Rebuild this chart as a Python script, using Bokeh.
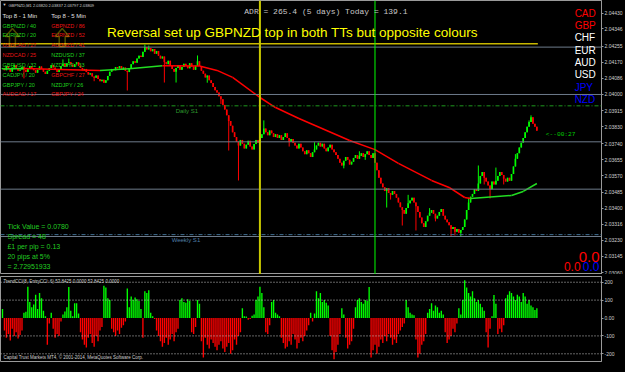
from bokeh.plotting import figure
from bokeh.layouts import column
from bokeh.models import (Range1d, Span, Label, PolyAnnotation, LinearAxis,
                          FixedTicker, PrintfTickFormatter, ColumnDataSource)
from bokeh.embed import file_html
from bokeh.resources import INLINE

# ---------------- data (prices in points above 2.03000) ----------------
BASE = 2.03000
first_open = 1135
closes = [
    1140, 1128, 1150, 1135, 1120, 1142, 1155, 1138, 1125, 1132,
    1145, 1130, 1118, 1136, 1150, 1140, 1128, 1115, 1130, 1148,
    1135, 1120, 1108, 1125, 1140, 1155, 1142, 1130, 1118, 1135,
    1150, 1162, 1148, 1165, 1172, 1158, 1145, 1160, 1170, 1152,
    1140, 1128, 1135, 1118, 1105, 1112, 1095, 1088, 1100, 1082,
    1070, 1078, 1062, 1075, 1098, 1120, 1135, 1128, 1145, 1138,
    1150, 1130, 1142, 1125, 1118, 1140, 1160, 1175, 1168, 1190,
    1205, 1198, 1225, 1250, 1238, 1245, 1228, 1240, 1215, 1230,
    1205, 1190, 1200, 1172, 1160, 1178, 1150, 1135, 1120, 1140,
    1155, 1130, 1145, 1162, 1150, 1138, 1165, 1148, 1130, 1152,
    1175, 1150, 1125, 1110, 1090, 1100, 1075, 1060, 1040, 1022,
    1010, 990, 975, 945, 920, 890, 860, 835, 800, 775,
    750, 730, 760, 740, 715, 735, 755, 725, 710, 738,
    760, 745, 770, 790, 820, 800, 785, 810, 795, 775,
    790, 770, 785, 760, 775, 795, 770, 750, 765, 745,
    730, 715, 740, 720, 700, 685, 705, 690, 670, 695,
    710, 730, 745, 725, 740, 715, 700, 720, 735, 710,
    695, 680, 660, 640, 625, 650, 670, 655, 630, 645,
    665, 680, 660, 675, 690, 670, 685, 700, 680, 665,
    690, 640, 600, 560, 530, 510, 490, 505, 480, 470,
    490, 475, 455, 430, 405, 390, 370, 400, 425, 440,
    455, 430, 410, 380, 350, 320, 300, 330, 360, 375,
    390, 370, 345, 360, 380, 395, 360, 340, 325, 310,
    290, 300, 275, 290, 270, 285, 300, 340, 390, 430,
    460, 475, 500, 490, 530, 570, 590, 560, 540, 520,
    500, 540, 525, 545, 570, 590, 575, 555, 540, 560,
    545, 580, 620, 660, 690, 720, 745, 770, 800, 830,
    855, 880, 845, 830, 809,
]
spike_high_bars = [31, 34, 73, 75, 100, 134, 160, 183, 208, 219, 239, 244, 253, 263, 270, 271]
spike_high_pts = [1185, 1190, 1264, 1258, 1206, 863, 748, 700, 470, 400, 455, 625, 614, 685, 863, 890]
spike_low_bars = [11, 47, 64, 83, 89, 105, 112, 116, 121, 147, 175, 186, 197, 199,
                  205, 212, 222, 230, 232, 235, 247, 250, 257]
spike_low_pts = [1085, 1070, 1021, 1063, 1063, 1062, 950, 704, 546, 725, 610, 655, 403, 445,
                 308, 282, 330, 250, 255, 248, 525, 451, 525]

ma_bars = [0, 11, 30, 50, 65, 82, 101, 110, 118, 132, 140, 152, 178, 191, 203,
           220, 229, 237, 240, 261, 267, 274]
ma_pts = [1134, 1137, 1132, 1127, 1136, 1152, 1150, 1127, 1090, 984, 931, 873,
          757, 709, 636, 546, 509, 456, 451, 467, 488, 530]

cci = [
    50, -70, -110, -90, -125, -60, -100, -80, -115, -95,
    -70, 30, 35, 175, 90, 60, 75, 130, 50, 140,
    110, 40, 10, -150, -30, 30, -60, -110, -90, -100,
    -20, 20, 37, 60, 174, 40, 10, 82, 82, 25,
    -80, -120, -150, -165, -110, -90, -140, -160, -100, -130,
    -70, -50, 180, 170, 110, 100, -60, -80, -100, -70,
    -90, -55, -40, -20, 165, 60, 120, 100, 115, 105,
    95, 50, -110, 150, 140, 155, 30, 10, -5, -70,
    -100, -130, -160, -140, -110, -150, -120, -90, -130, -80,
    -60, 100, 110, 90, 85, 105, 95, -80, -90, -50,
    100, 80, -130, -220, -110, -150, -170, -120, -140, -160,
    -180, -150, -130, -170, -190, -160, -140, -200, -180, -120,
    -150, -100, -80, 55, 10, 8, -10, -5, 12, 20,
    100, 120, 175, 140, 60, -80, -90, -40, 90, 100,
    30, 20, 10, -110, -140, -170, -160, -130, -150, -90,
    -120, -170, -140, -110, -130, -100, -70, -40, 30, -20,
    25, 150, 110, 140, 90, 100, 85, 70, -100, -180,
    -230, -190, -150, -90, 55, 20, -110, -170, -150, -130,
    -60, 60, 100, 110, 90, 80, 100, 95, 174, -220,
    -180, -150, -200, -160, -120, -140, -100, -130, -90, -110,
    -150, -120, -140, -90, -70, -50, -30, 100, 60, 30,
    20, 15, -120, -220, -200, -150, -130, -90, 30, 50,
    82, 40, 70, 60, 30, 40, 20, -80, -140, -120,
    -100, -60, -80, -30, 55, 20, 100, 211, 170, 140,
    120, 150, 110, 90, 100, 80, 60, 40, -80, -165,
    -60, 10, 128, 80, -90, -60, -80, -40, 110, 130,
    150, 140, 120, 100, 130, 120, 90, 140, 120, 80,
    100, 70, 60, 45, 54,
]
cci_levels = [200, 100, -100, -200]
cci_ticks = [200, 100, 0, -100, -200]
cci_tick_labels = ["200", "100", "0.00", "-100", "-200"]
cci_max_label, cci_min_label = 231.1794, -241.4566

price_ticks = [2.03060, 2.03145, 2.03230, 2.03316, 2.03400, 2.03485, 2.03570,
               2.03655, 2.03740, 2.03830, 2.03915, 2.04000, 2.04086, 2.04170,
               2.04255, 2.04346, 2.04430]
level_lines = [2.04250, 2.04000, 2.03750, 2.03500, 2.03250]
daily_s1 = 2.03940
weekly_s1 = 2.03260
trend_line_bars = [-1, 274.5]
trend_line_price = 2.04268
vline_bars = [132, 191]
bid = 2.03809

time_label_bars = [0, 16, 32, 48, 64, 80, 96, 112, 128, 144, 160, 176, 192,
                   208, 224, 240, 256, 272]
time_labels = ["10 Nov 2014", "10 Nov 08:04", "10 Nov 08:20", "10 Nov 08:36",
               "10 Nov 08:52", "10 Nov 09:08", "10 Nov 09:24", "10 Nov 09:40",
               "10 Nov 09:56", "10 Nov 10:12", "10 Nov 10:28", "10 Nov 10:44",
               "10 Nov 11:00", "10 Nov 11:16", "10 Nov 11:32", "10 Nov 11:48",
               "10 Nov 12:04", "10 Nov 12:20"]

pairs_1min = ["GBPNZD / 40", "EURNZD / 20", "USDCAD / 27", "NZDCAD / 25",
              "GBPUSD / 32", "CADJPY / 20", "GBPJPY / 20", "AUDCAD / 17"]
pairs_1min_up = [True, True, False, False, True, True, True, False]
pairs_5min = ["GBPNZD / 86", "EURNZD / 52", "AUDNZD / 41", "NZDUSD / 37",
              "NZDCHF / 33", "GBPCHF / 27", "NZDJPY / 26", "GBPJPY / 24"]
pairs_5min_up = [False, False, False, True, True, False, True, False]
currencies = ["CAD", "GBP", "CHF", "EUR", "AUD", "USD", "JPY", "NZD"]
currency_colors = ["#ff0000", "#ff0000", "#ffffff", "#ffffff", "#ffffff",
                   "#ffffff", "#0000ff", "#0000ff"]
info_lines = ["Tick Value = 0.0780", "Spread = 48", "\u00a31 per pip = 0.13",
              "20 pips at 5%", "= 2.72951933"]

# ---------------- geometry helpers ----------------
PX_PER_BAR = 1.96
PRICE_PER_PX = 0.0000528


def bx(px):
    return (px - 2) / PX_PER_BAR


def my(py):
    return 2.03060 + (272 - py) * PRICE_PER_PX


def cy(py):
    return 232 - (py - 276) * (475 / 85)


def to_price(v):
    return BASE + v / 1e5


GREEN = "#00ff00"
RED = "#ff0000"

# ---------------- main price panel ----------------
p1 = figure(width=625, height=274, output_backend="svg", toolbar_location=None,
            x_range=Range1d(bx(0), bx(604)), y_range=Range1d(my(274), my(0)),
            x_axis_type=None, y_axis_type=None,
            min_border_left=0, min_border_right=21, min_border_top=0, min_border_bottom=0,
            background_fill_color="black", border_fill_color="black",
            outline_line_color="#9a9a9a")
p1.grid.visible = False

yax = LinearAxis(ticker=FixedTicker(ticks=price_ticks),
                 formatter=PrintfTickFormatter(format="%.5f"),
                 axis_line_color="#9a9a9a", major_tick_line_color="#9a9a9a",
                 major_tick_out=2, major_tick_in=0, minor_tick_line_color=None,
                 major_label_standoff=1, major_label_text_font_size="5px",
                 major_label_text_color="#d0d0d0", major_label_text_font="Liberation Sans")
p1.add_layout(yax, "right")

for lv in level_lines:
    p1.add_layout(Span(location=lv, dimension="width", line_color="#6e7b8b", line_width=1))
p1.add_layout(Span(location=daily_s1, dimension="width", line_color="#1e9a1e",
                   line_width=1, line_dash="4 2 1 2"))
p1.add_layout(Span(location=weekly_s1, dimension="width", line_color="#3f6f93",
                   line_width=1, line_dash="4 2 1 2"))
p1.line(trend_line_bars, [trend_line_price] * 2, line_color="#c8b800", line_width=1.5)

p1.add_layout(Span(location=vline_bars[0], dimension="height", line_color="#c8c800", line_width=2))
p1.add_layout(Span(location=vline_bars[1], dimension="height", line_color="#00ff00", line_width=1))

opens = [first_open] + closes[:-1]
n = len(closes)
hi = [max(o, c) for o, c in zip(opens, closes)]
lo = [min(o, c) for o, c in zip(opens, closes)]
for b, v in zip(spike_high_bars, spike_high_pts):
    hi[b] = max(hi[b], v)
for b, v in zip(spike_low_bars, spike_low_pts):
    lo[b] = min(lo[b], v)
src = ColumnDataSource(dict(
    x=list(range(n)),
    hi=[to_price(v) for v in hi], lo=[to_price(v) for v in lo],
    top=[to_price(max(o, c)) for o, c in zip(opens, closes)],
    bot=[to_price(min(o, c)) for o, c in zip(opens, closes)],
    color=[GREEN if c >= o else RED for o, c in zip(opens, closes)],
))
p1.segment(x0="x", y0="hi", x1="x", y1="lo", line_color="color", line_width=1, source=src)
p1.vbar(x="x", width=0.85, top="top", bottom="bot", fill_color="color", line_color=None, source=src)

ma_src = ColumnDataSource(dict(
    x0=ma_bars[:-1], x1=ma_bars[1:],
    y0=[to_price(v) for v in ma_pts[:-1]], y1=[to_price(v) for v in ma_pts[1:]],
    color=["#22dd22" if b >= a else "#ff0000" for a, b in zip(ma_pts[:-1], ma_pts[1:])],
))
p1.segment(x0="x0", y0="y0", x1="x1", y1="y1", line_color="color", line_width=1.5, source=ma_src)


def lab(fig, conv, px, py, text, size, color, font="Liberation Sans", align="left"):
    fig.add_layout(Label(x=bx(px), y=conv(py), text=text, text_font=font,
                         text_font_size=f"{size}px", text_color=color,
                         text_align=align, text_baseline="middle"))


# axis highlight boxes
for lv in level_lines:
    p1.add_layout(Label(x=bx(605), y=lv, text=f"{lv:.5f}", text_font="Liberation Sans",
                        text_font_size="5px", text_color="#f0f0f0", text_baseline="middle",
                        background_fill_color="#6e7b8b", padding=1))
p1.add_layout(Label(x=bx(605), y=daily_s1, text=f"{daily_s1:.5f}", text_font="Liberation Sans",
                    text_font_size="5px", text_color="#000000", text_baseline="middle",
                    background_fill_color="#32cd32", padding=1))
p1.add_layout(Label(x=bx(605), y=bid, text=f"{bid:.5f}", text_font="Liberation Sans",
                    text_font_size="5px", text_color="#000000", text_baseline="middle",
                    background_fill_color="#ffffff", padding=1))

# texts on the chart
lab(p1, my, 2, 4, "\u25bc", 4, "#d0d0d0")
lab(p1, my, 8, 4.5, "GBPNZD,M1  2.03820 2.03837 2.03797 2.03809", 4, "#d0d0d0")
lab(p1, my, 2, 15, "Top 8 - 1 Min", 6, "#e0e0e0")
lab(p1, my, 51, 15, "Top 8 - 5 Min", 6, "#e0e0e0")
row_y = [25, 34.5, 44.5, 54.5, 64, 74, 84, 93.5]
for t, up, yy in zip(pairs_1min, pairs_1min_up, row_y):
    lab(p1, my, 2, yy, t, 5.5, "#1ed21e" if up else "#e61414")
for t, up, yy in zip(pairs_5min, pairs_5min_up, row_y):
    lab(p1, my, 51, yy, t, 5.5, "#1ed21e" if up else "#e61414")

for cx in (12, 62):
    xs = [cx, cx + 7, cx + 3, cx + 3, cx - 3, cx - 3, cx - 7]
    ys = [28, 36, 36, 46, 46, 36, 36]
    p1.add_layout(PolyAnnotation(xs=[bx(v) for v in xs], ys=[my(v) for v in ys],
                                 fill_alpha=0, line_color="#ffff00", line_width=1.5))

lab(p1, my, 107, 32, "Reversal set up GBPNZD top in both TTs but opposite colours", 13.5, "#ffff00")
lab(p1, my, 245, 11, "ADR = 265.4  (5 days)     Today = 139.1", 8, "#c8c8c8", font="Liberation Mono")

cur_y = [13, 25, 37, 50, 62, 74, 87, 99]
for t, c, yy in zip(currencies, currency_colors, cur_y):
    lab(p1, my, 577, yy, t, 10, c)

lab(p1, my, 176, 110.5, "Daily S1", 6, "#2e9a2e")
lab(p1, my, 172, 239, "Weekly S1", 6, "#4f7fa8")
lab(p1, my, 548, 134, "<--00:27", 6.2, "#00cc00", font="Liberation Mono")

for i, t in enumerate(info_lines):
    lab(p1, my, 7, 226 + 10 * i, t, 7, "#22cc22")

lab(p1, my, 602, 256, "0.0", 15, "#ff0000", align="right")
lab(p1, my, 583, 266, "0.0", 12, "#ff0000", align="right")
lab(p1, my, 602, 266, "0.0", 12, "#0000ff", align="right")

# ---------------- CCI panel ----------------
p2 = figure(width=625, height=98, output_backend="svg", toolbar_location=None,
            x_range=p1.x_range, y_range=Range1d(-243, 232),
            x_axis_type=None, y_axis_type=None,
            min_border_left=0, min_border_right=21, min_border_top=2, min_border_bottom=11,
            background_fill_color="black", border_fill_color="black",
            outline_line_color="#9a9a9a")
p2.grid.visible = False
cax = LinearAxis(ticker=FixedTicker(ticks=cci_ticks),
                 major_label_overrides={k: v for k, v in zip(cci_ticks, cci_tick_labels)},
                 axis_line_color="#9a9a9a", major_tick_line_color="#9a9a9a",
                 major_tick_out=2, major_tick_in=0, minor_tick_line_color=None,
                 major_label_standoff=1, major_label_text_font_size="5px",
                 major_label_text_color="#d0d0d0", major_label_text_font="Liberation Sans")
p2.add_layout(cax, "right")

for lv in cci_levels:
    p2.add_layout(Span(location=lv, dimension="width", line_color="#c8c8c8",
                       line_width=1, line_dash="1 2"))

csrc = ColumnDataSource(dict(x=list(range(len(cci))), top=cci,
                             color=[GREEN if v >= 0 else RED for v in cci]))
p2.vbar(x="x", width=0.7, top="top", bottom=0, fill_color="color", line_color=None, source=csrc)

for v in (cci_max_label, cci_min_label):
    p2.add_layout(Label(x=bx(606), y=v, text=f"{v:.4f}", text_font="Liberation Sans",
                        text_font_size="5px", text_color="#d0d0d0", text_baseline="middle"))

lab(p2, cy, 3, 281, "TrendCCI(8, EntryCCI: 6) 53.8425 0.0000 53.8425 0.0000", 4.5, "#d0d0d0")
lab(p2, cy, 3, 357, "Capital Trust Markets MT4, \u00a9 2001-2014, MetaQuotes Software Corp.", 4.5, "#d0d0d0")

for b, t in zip(time_label_bars, time_labels):
    p2.add_layout(Label(x=b, y=cy(367), x_offset=1, text=t, text_font="Liberation Sans",
                        text_font_size="4.5px", text_color="#d0d0d0", text_baseline="middle"))

layout = column(p1, p2, spacing=0, styles={"background-color": "black"})
open("out.html", "w").write(file_html(layout, INLINE))
